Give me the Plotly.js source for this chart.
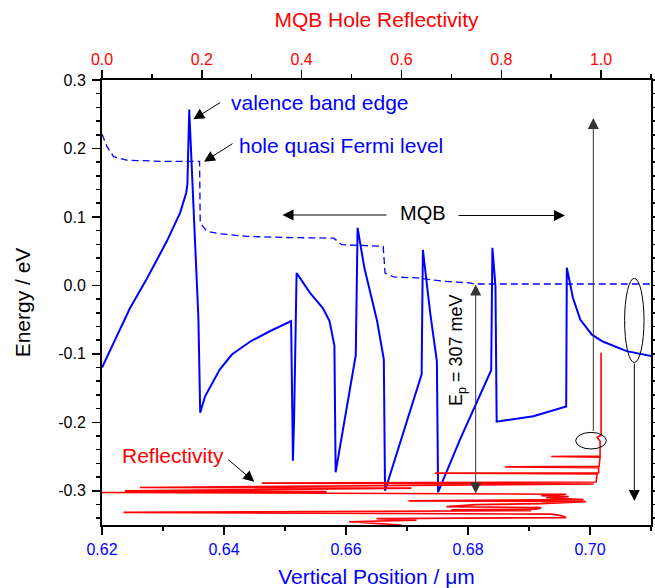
<!DOCTYPE html>
<html>
<head>
<meta charset="utf-8">
<script src="https://cdn.plot.ly/plotly-3.0.1.min.js"></script>
<style>html,body{margin:0;padding:0;background:#fff;}#chart{width:655px;height:588px;}</style>
</head>
<body>
<div id="chart"></div>
<script>
// ---- Data ----
// Valence band edge (bottom axis: vertical position in µm, left axis: energy in eV)
const vbPosition = [0.6200, 0.6235, 0.6246, 0.6273, 0.6306, 0.6328, 0.6338, 0.6340, 0.6343, 0.6358, 0.6361,
  0.6369, 0.6393, 0.6413, 0.6443, 0.6475, 0.6510, 0.6513, 0.6515, 0.6519, 0.6541, 0.6562, 0.6573, 0.6581,
  0.6583, 0.6616, 0.6619, 0.6630, 0.6651, 0.6662, 0.6664, 0.6724, 0.6726, 0.6738, 0.6749, 0.6751, 0.6787,
  0.6838, 0.6840, 0.6845, 0.6847, 0.6907, 0.6961, 0.6962, 0.6972, 0.6984, 0.7003, 0.7021, 0.7060, 0.7100];
const vbEnergy = [-0.120, -0.055, -0.033, 0.009, 0.064, 0.106, 0.135, 0.148, 0.257, -0.047, -0.186,
  -0.162, -0.123, -0.101, -0.082, -0.067, -0.052, -0.256, -0.191, 0.018, -0.011, -0.033, -0.052, -0.088,
  -0.273, -0.102, 0.084, 0.026, -0.052, -0.108, -0.300, -0.130, 0.052, -0.040, -0.111, -0.302, -0.225,
  -0.124, 0.055, -0.001, -0.199, -0.191, -0.177, 0.026, -0.018, -0.050, -0.072, -0.082, -0.096, -0.103];

// Hole quasi Fermi level
const qflPosition = [0.6200, 0.6208, 0.6219, 0.6240, 0.6300, 0.6360, 0.6361, 0.6372, 0.6393, 0.6437, 0.6500,
  0.6580, 0.6593, 0.6661, 0.6664, 0.6678, 0.6716, 0.6760, 0.6803, 0.6811, 0.7100];
const qflEnergy = [0.221, 0.203, 0.188, 0.183, 0.181, 0.181, 0.091, 0.079, 0.0755, 0.0716, 0.070,
  0.069, 0.0595, 0.057, 0.018, 0.0124, 0.0109, 0.006, 0.0036, 0.002, 0.002];

// MQB hole reflectivity (top axis) versus energy (left axis)
const reflEnergy = [-0.0984, -0.2190, -0.2219, -0.2248, -0.2277, -0.2493, -0.2500, -0.2510, -0.2644, -0.2652,
  -0.2662, -0.2738, -0.2743, -0.2755, -0.2872, -0.2889, -0.2901, -0.2915, -0.2952, -0.2961, -0.3001, -0.3012,
  -0.3025, -0.3039, -0.3050, -0.3071, -0.3086, -0.3101, -0.3130, -0.3147, -0.3159, -0.3188, -0.3203, -0.3232,
  -0.3246, -0.3268, -0.3278, -0.3290, -0.3316, -0.3341, -0.3363, -0.3392, -0.3407, -0.3429, -0.3453, -0.3501, -0.3560];
const reflValue = [1.000, 1.000, 0.992, 0.995, 0.998, 0.998, 0.900, 0.998, 0.996, 0.807,
  0.995, 0.995, 0.667, 0.992, 0.990, 0.320, 0.985, 0.740, 0.076, 0.620, 0.046, 0.450,
  0.000, 0.600, 0.930, 0.880, 0.935, 0.890, 0.965, 0.614, 0.970, 0.880, 0.750, 0.690,
  0.880, 0.870, 0.700, 0.860, 0.043, 0.900, 0.920, 0.930, 0.550, 0.630, 0.495, 0.600, 0.500];

// Tick labels
const yTickVals = [-0.3, -0.2, -0.1, 0.0, 0.1, 0.2, 0.3];
const yTickLabels = ["-0.3", "-0.2", "-0.1", "0.0", "0.1", "0.2", "0.3"];
const xTickVals = [0.62, 0.64, 0.66, 0.68, 0.70];
const xTickLabels = ["0.62", "0.64", "0.66", "0.68", "0.70"];
const x2TickVals = [0.0, 0.2, 0.4, 0.6, 0.8, 1.0];
const x2TickLabels = ["0.0", "0.2", "0.4", "0.6", "0.8", "1.0"];

// ---- Layout helpers (pixel -> paper) ----
const W = 655, H = 588;
const PL = 102, PR = 651, PT = 80, PB = 525;
const fx = x => (x - PL) / (PR - PL);
const fy = y => (PB - y) / (PB - PT);
const FONT = '"Liberation Sans", Arial, sans-serif';
const BLUE = '#0000ff', RED = '#ff0000';

const traces = [
  {x: qflPosition, y: qflEnergy, type: 'scatter', mode: 'lines', xaxis: 'x', yaxis: 'y',
   line: {color: BLUE, width: 1.3, dash: '7px,4px'}, hoverinfo: 'skip'},
  {x: vbPosition, y: vbEnergy, type: 'scatter', mode: 'lines', xaxis: 'x', yaxis: 'y',
   line: {color: BLUE, width: 2}, hoverinfo: 'skip'},
  {x: reflValue, y: reflEnergy, type: 'scatter', mode: 'lines', xaxis: 'x2', yaxis: 'y',
   line: {color: RED, width: 1.6}, hoverinfo: 'skip'}
];

function txt(text, x, y, color, size, xanchor, extra) {
  return Object.assign({text: text, xref: 'paper', yref: 'paper', x: fx(x), y: fy(y), xanchor: xanchor || 'left',
    yanchor: 'middle', showarrow: false, font: {family: FONT, size: size, color: color}}, extra || {});
}
function arrow(hx, hy, tx, ty, color, extra) {
  return Object.assign({text: '', xref: 'paper', yref: 'paper', x: fx(hx), y: fy(hy), ax: tx - hx, ay: ty - hy,
    axref: 'pixel', ayref: 'pixel', showarrow: true, arrowhead: 2, arrowsize: 2.2, arrowwidth: 1,
    arrowcolor: color || '#000'}, extra || {});
}

const annotations = [
  txt('valence band edge', 229, 103, BLUE, 21),
  txt('hole quasi Fermi level', 237, 145, BLUE, 21),
  txt('MQB', 423, 213, '#000', 20, 'center'),
  txt('Reflectivity', 120, 455, RED, 21),
  txt('E<sub>p</sub> = 307 meV', 458, 350, '#000', 18, 'center', {textangle: -90}),
  arrow(193.3, 119.3, 221.7, 101.7),
  arrow(204, 161.7, 234, 142.7),
  arrow(282.5, 215, 388, 215),
  arrow(565, 215.5, 457, 215.5),
  arrow(254.3, 481.7, 226.7, 458.3),
  arrow(475.7, 284.5, 475.7, 495, '#333', {arrowside: 'end+start'}),
  arrow(593.3, 118, 593.3, 432.5, '#333'),
  arrow(634.3, 501, 634.3, 362, '#000')
];

const shapes = [
  {type: 'circle', xref: 'paper', yref: 'paper', x0: fx(575.7), x1: fx(606.3), y0: fy(449), y1: fy(432.4),
   line: {color: '#000', width: 1}},
  {type: 'circle', xref: 'paper', yref: 'paper', x0: fx(624.6), x1: fx(644), y0: fy(362.5), y1: fy(278.3),
   line: {color: '#000', width: 1}}
];

const axisCommon = {showgrid: false, zeroline: false, showline: true, linecolor: '#000', linewidth: 2,
  ticks: 'outside', ticklen: 8, tickwidth: 1.5, tickcolor: '#000'};

const layout = {
  width: W, height: H,
  margin: {l: PL, r: W - PR, t: PT, b: H - PB, pad: 0},
  paper_bgcolor: '#fff', plot_bgcolor: '#fff',
  showlegend: false,
  font: {family: FONT, size: 16, color: '#000'},
  xaxis: Object.assign({}, axisCommon, {
    range: [0.62, 0.71], tickmode: 'array', tickvals: xTickVals, ticktext: xTickLabels,
    tickfont: {family: FONT, size: 16, color: BLUE}, ticklabelstandoff: 1,
    minor: {tickmode: 'linear', tick0: 0.62, dtick: 0.01, ticks: 'outside', ticklen: 4, tickwidth: 1.5, tickcolor: '#000'},
    title: {text: 'Vertical Position / μm', font: {family: FONT, size: 21, color: BLUE}, standoff: 12}
  }),
  xaxis2: Object.assign({}, axisCommon, {
    overlaying: 'x', side: 'top', anchor: 'y',
    range: [0, 1.1], tickmode: 'array', tickvals: x2TickVals, ticktext: x2TickLabels,
    tickfont: {family: FONT, size: 16, color: RED}, ticklabelstandoff: -1,
    minor: {tickmode: 'linear', tick0: 0, dtick: 0.1, ticks: 'outside', ticklen: 4, tickwidth: 1.5, tickcolor: '#000'},
    title: {text: 'MQB Hole Reflectivity', font: {family: FONT, size: 21, color: RED}, standoff: 17}
  }),
  yaxis: Object.assign({}, axisCommon, {
    range: [-0.35, 0.3], mirror: 'ticks', tickmode: 'array', tickvals: yTickVals, ticktext: yTickLabels,
    tickfont: {family: FONT, size: 16, color: '#000'}, ticklabelstandoff: 3,
    minor: {tickmode: 'linear', tick0: 0, dtick: 0.02, ticks: 'outside', ticklen: 4, tickwidth: 1.5, tickcolor: '#000'},
    title: {text: 'Energy / eV', font: {family: FONT, size: 21, color: '#000'}, standoff: 22}
  }),
  annotations: annotations,
  shapes: shapes
};

Plotly.newPlot('chart', traces, layout, {displayModeBar: false, staticPlot: true});
</script>
</body>
</html>
